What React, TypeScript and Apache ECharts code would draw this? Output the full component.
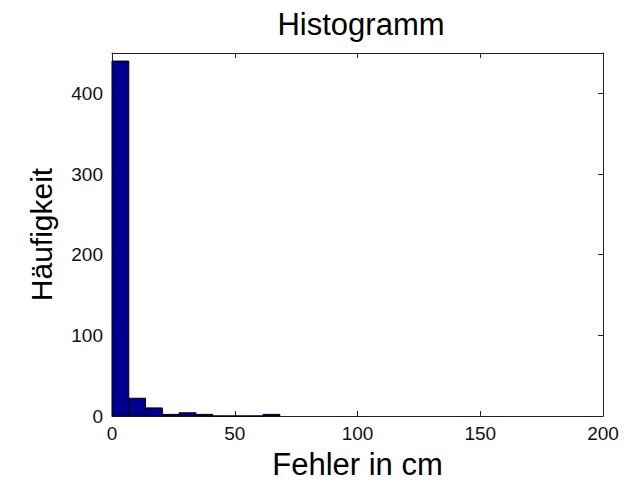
import React, { useEffect, useRef } from "react";
import * as echarts from "echarts";

// Histogram bin edges (cm) and counts per bin
const binEdges = [0, 6.84, 13.67, 20.51, 27.34, 34.18, 41.01, 47.85, 54.68, 61.52, 68.35];
const binCounts = [440, 22, 10, 2, 4, 2, 0, 0, 0, 2];

const xTicks = { min: 0, max: 200, interval: 50 };
const yTicks = { min: 0, max: 450, interval: 100 };

const FONT = "'Liberation Sans', Arial, Helvetica, sans-serif";
const AXIS_COLOR = "#222";

export default function App() {
  const ref = useRef<HTMLDivElement>(null);

  useEffect(() => {
    if (!ref.current) return;
    const chart = echarts.init(ref.current, undefined, { renderer: "svg" });

    const data = binCounts.map((c, i) => [binEdges[i], binEdges[i + 1], c]);

    const boxAxis = {
      axisLine: { show: true, onZero: false, lineStyle: { color: AXIS_COLOR, width: 1 } },
      axisTick: { show: true, inside: true, length: 5, lineStyle: { color: AXIS_COLOR } },
      splitLine: { show: false },
    };

    chart.setOption({
      animation: false,
      backgroundColor: "#fff",
      textStyle: { fontFamily: FONT },
      title: {
        text: "Histogramm",
        left: 356,
        top: 4,
        textAlign: "center",
        textStyle: { fontSize: 31, fontWeight: "normal", color: "#000", fontFamily: FONT },
      },
      grid: { left: 112, right: 34, top: 53, bottom: 66, containLabel: false },
      xAxis: [
        {
          type: "value",
          position: "bottom",
          ...xTicks,
          ...boxAxis,
          axisLabel: { fontSize: 19, color: "#111", margin: 8, fontFamily: FONT },
          name: "Fehler in cm",
          nameLocation: "middle",
          nameGap: 33,
          nameTextStyle: { fontSize: 31, color: "#000", fontFamily: FONT },
        },
        {
          type: "value",
          position: "top",
          ...xTicks,
          ...boxAxis,
          axisLabel: { show: false },
        },
      ],
      yAxis: [
        {
          type: "value",
          position: "left",
          ...yTicks,
          ...boxAxis,
          axisLabel: {
            fontSize: 19,
            color: "#111",
            margin: 9,
            fontFamily: FONT,
            formatter: (v: number) => (v % 100 === 0 ? String(v) : ""),
          },
          name: "Häufigkeit",
          nameLocation: "middle",
          nameGap: 56,
          nameTextStyle: { fontSize: 30, color: "#000", fontFamily: FONT },
        },
        {
          type: "value",
          position: "right",
          ...yTicks,
          ...boxAxis,
          axisLabel: { show: false },
        },
      ],
      series: [
        {
          type: "custom",
          xAxisIndex: 0,
          yAxisIndex: 0,
          data,
          encode: { x: [0, 1], y: 2 },
          renderItem: (_params: any, api: any) => {
            const x0 = api.value(0);
            const x1 = api.value(1);
            const y = api.value(2);
            const pTop = api.coord([x0, y]);
            const pBase = api.coord([x1, 0]);
            return {
              type: "rect",
              shape: {
                x: pTop[0],
                y: pTop[1],
                width: pBase[0] - pTop[0],
                height: pBase[1] - pTop[1],
              },
              style: { fill: "#00008F", stroke: "#000", lineWidth: 1 },
            };
          },
        },
      ],
    });

    return () => chart.dispose();
  }, []);

  return (
    <div
      ref={ref}
      style={{ position: "fixed", left: 0, top: 0, width: 637, height: 485 }}
    />
  );
}
